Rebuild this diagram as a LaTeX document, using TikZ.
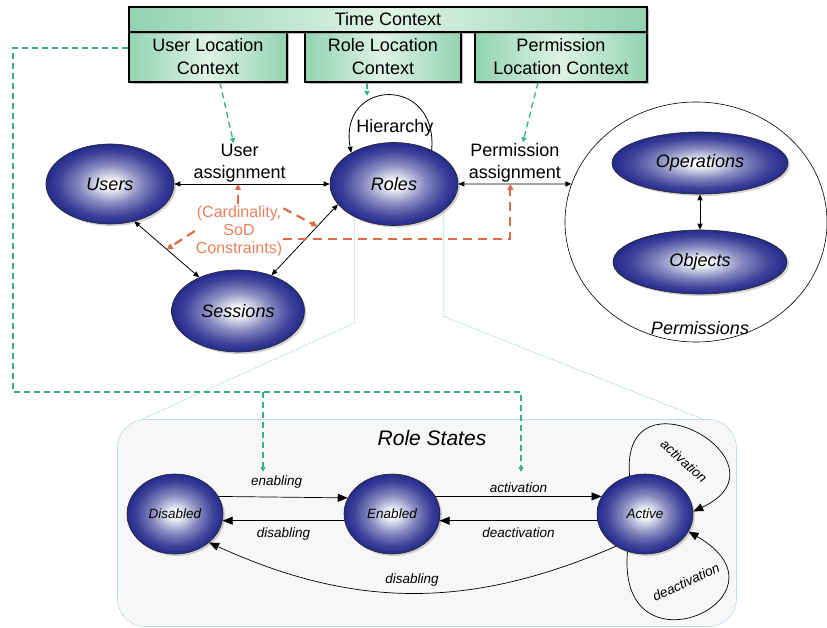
\documentclass[tikz,border=0pt]{standalone}
\usepackage{fontspec}
\setmainfont{Liberation Sans}
\usetikzlibrary{arrows.meta,shapes.geometric,shadows,positioning}

\definecolor{ctxgreen}{RGB}{146,211,178}
\definecolor{ctxline}{RGB}{52,178,132}
\definecolor{entblue}{RGB}{36,42,140}
\definecolor{cnstr}{RGB}{218,108,70}
\definecolor{cnstrtext}{RGB}{232,128,92}
\definecolor{zoomblue}{RGB}{110,175,205}

\pgfdeclareradialshading{entball}{\pgfpoint{0bp}{0bp}}{color(0bp)=(white); color(2bp)=(white); color(12bp)=(entblue!55!white); color(20bp)=(entblue!88!white); color(25bp)=(entblue); color(50bp)=(entblue)}

\begin{document}
\begin{tikzpicture}[x=1pt,y=-1pt,>={Triangle[length=6pt,width=5pt]},
    ctx/.style={draw,line width=1.3pt,left color=ctxgreen,right color=ctxgreen,middle color=ctxgreen!30!white,
      inner sep=0pt,align=center,font=\fontsize{18}{23}\selectfont,
      drop shadow={shadow xshift=2pt,shadow yshift=-2pt,opacity=.5}},
    entity/.style={ellipse,draw=black!85,line width=.6pt,shading=entball,inner sep=0pt,
      font=\fontsize{18}{22}\selectfont\itshape,
      drop shadow={shadow xshift=2pt,shadow yshift=-2pt,opacity=.35}},
    rolestate/.style={entity,minimum width=96pt,minimum height=80pt,font=\fontsize{13.5}{16}\selectfont\itshape},
    trans/.style={-{Triangle[length=10pt,width=8pt]},line width=.7pt},
    small/.style={font=\fontsize{13.5}{16}\selectfont\itshape},
    plain/.style={font=\fontsize{18}{22}\selectfont},
    ctxdash/.style={draw=ctxline,line width=1.3pt,dash pattern=on 6pt off 4pt,-{Triangle[length=5pt,width=5pt]}},
    cdash/.style={draw=cnstr,line width=2.2pt,dash pattern=on 9pt off 6pt,-{Triangle[length=6pt,width=6pt]}},
    zoomln/.style={draw=zoomblue,line width=.6pt,densely dotted}]
    \useasboundingbox (0,0) rectangle (827,628);

    \node[draw=zoomblue,densely dotted,line width=.6pt,fill=gray!6,rounded corners=28pt,
      minimum width=619pt,minimum height=207pt] (rsbox) at (427,523) {};
    \node[font=\fontsize{21}{24}\selectfont\itshape] (rstitle) at (432,438) {Role States};

    \node[ctx,minimum width=158pt,minimum height=50pt] (userloc) at (208,57) {User Location\\Context};
    \node[ctx,minimum width=156pt,minimum height=50pt] (roleloc) at (383,57) {Role Location\\Context};
    \node[ctx,minimum width=172pt,minimum height=50pt] (permloc) at (561,57) {Permission\\Location Context};
    \node[ctx,minimum width=518pt,minimum height=25pt] (timectx) at (388,19.5) {Time Context};

    \node[entity,minimum width=128pt,minimum height=80pt] (users) at (110,184) {Users};
    \node[entity,minimum width=128pt,minimum height=83pt] (roles) [right of=users,node distance=284pt] {Roles};
    \node[entity,minimum width=133pt,minimum height=82pt] (sessions) at (238,311) {Sessions};

    \node[ellipse,draw,line width=.6pt,minimum width=262pt,minimum height=240pt] (perms) at (696,222) {};
    \node[entity,minimum width=176pt,minimum height=62pt] (ops) at (700,163) {Operations};
    \node[entity,minimum width=174pt,minimum height=64pt] (objs) [below of=ops,node distance=99pt] {Objects};
    \node[plain,font=\fontsize{18}{22}\selectfont\itshape] (permlbl) at (700,328) {Permissions};

    \draw[<->,line width=.8pt] (users) -- node[plain,above,pos=.42,align=center,inner sep=1pt] (ua) {User\\assignment}
      coordinate[pos=.41] (uac) (roles);
    \draw[<->,line width=.8pt] (roles) -- node[plain,above,align=center,inner sep=1pt] (pa) {Permission\\assignment}
      coordinate[pos=.46] (pac) (perms.163);
    \draw[<->,line width=.8pt] (users.303) -- coordinate[pos=.5] (usc) (sessions.139);
    \draw[<->,line width=.8pt] (roles.200) -- coordinate[pos=.31] (rsc) (sessions);
    \draw[<->,line width=.8pt] (ops) -- (objs);

    \path[->,line width=.8pt] (roles.42) edge[out=85,in=100,looseness=2.4] (roles.144);
    \node[plain] (hier) at (395,128) {Hierarchy};

    \node[font=\fontsize{16}{18}\selectfont,text=cnstrtext,align=center,inner sep=1pt] (cons) at (239,231)
      {(Cardinality,\\SoD\\Constraints)};
    \draw[cdash] (cons.north -| uac) -- (uac);
    \draw[cdash] ([yshift=-4pt]cons.north east) -- (rsc);
    \draw[cdash] (cons.west) -- (usc);
    \draw[cdash] ([yshift=-8pt]cons.east) -| (pac);

    \coordinate (gbend) at (13,392);
    \coordinate (enabtip) at (263,472);
    \coordinate (acttip) at (521,472);
    \coordinate (hiertop) at (367,96);
    \draw[ctxdash] ([yshift=9pt]userloc.west) -| (gbend) -| (acttip);
    \draw[ctxdash] (enabtip |- gbend) -- (enabtip);
    \draw[ctxdash] ([xshift=12pt]userloc.south) -- ([xshift=-6pt]ua.north);
    \draw[ctxdash] ([xshift=-16pt]roleloc.south) -- (hiertop);
    \draw[ctxdash] ([xshift=-23pt]permloc.south) -- ([xshift=8pt]pa.north);

    \draw[zoomln] (roles.220) -- ++(0,106) -- ([xshift=25pt]rsbox.north west);
    \draw[zoomln] (roles.332) -- ++(0,106) -- ([xshift=-34pt]rsbox.north east);

    \node[rolestate] (disabled) at (175,514) {Disabled};
    \node[rolestate] (enabled) [right of=disabled,node distance=217pt] {Enabled};
    \node[rolestate] (active) [right of=enabled,node distance=253pt] {Active};

    \path[trans] (disabled.22) edge node[small,above=5pt,pos=.45] {enabling} (enabled.160)
      (enabled.188) edge node[small,below=3pt] {disabling} (disabled.352)
      (enabled.22) edge node[small,above=0pt] {activation} (active.158)
      (active.188) edge node[small,below=3pt] {deactivation} (enabled.352)
      (active.228) edge[bend left=24] node[small,above=3pt] {disabling} (disabled.320)
      (active.112) edge[out=95,in=25,looseness=4] (active.3)
      (active.245) edge[out=265,in=-30,looseness=5.2] (active.338);
    \node[small,rotate=-42] (actlbl) at (684,461) {activation};
    \node[small,rotate=25] (deactlbl) at (686,582) {deactivation};
\end{tikzpicture}
\end{document}
